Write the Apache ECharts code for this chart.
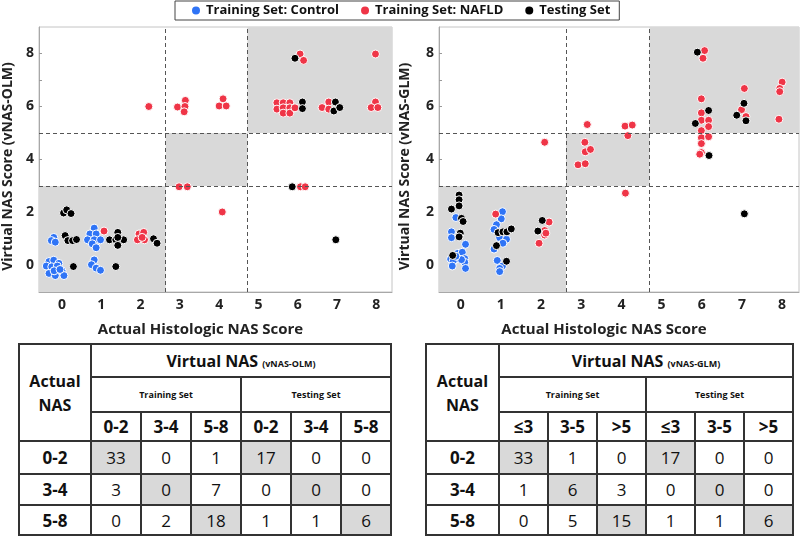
<!DOCTYPE html>
<html><head><meta charset="utf-8">
<script src="https://cdn.jsdelivr.net/npm/echarts@6/dist/echarts.min.js"></script>
<style>
html,body{margin:0;padding:0;background:#fff;}
#chart{position:absolute;left:0;top:0;width:800px;height:342px;}
table.nas{position:absolute;border-collapse:collapse;table-layout:fixed;font-family:"Open Sans",sans-serif;color:#111;}
table.nas td{border:2px solid #333;text-align:center;vertical-align:middle;padding:0;overflow:hidden;white-space:nowrap;}
td.big{font-size:17px;font-weight:bold;}
td.title{font-size:16px;font-weight:bold;}
td.hdr{font-size:16px;font-weight:bold;line-height:24px;}
td.sub{font-size:9px;font-weight:bold;}
td.val{font-size:17px;font-weight:normal;}
td.shade{background:#d9d9d9;}
span.small{font-size:9px;font-weight:bold;}
</style>
</head><body>
<div id="chart"></div>
<div id="tables"></div>
<script>
// ---------- data ----------
const seriesNames = ['Training Set: Control', 'Training Set: NAFLD', 'Testing Set'];
const xTickValues = [0,1,2,3,4,5,6,7,8];
const yLabelValues = [0,2,4,6,8];
const yTickValues = [0,1,2,3,4,5,6,7,8];
const yRange = [-1, 9];
const olmXRange = [-0.585, 8.4];
const glmXRange = [-0.54, 8.42];
const olmCutX = [2.64, 4.72];
const glmCutX = [2.62, 4.70];
const cutY = [3, 5];

// vNAS-OLM panel points [actual (jittered), virtual]
const olmControl = [
  [-0.21,1.06],[-0.27,0.94],[-0.17,0.88],
  [-0.33,0.15],[-0.21,0.2],[-0.08,0.08],[-0.4,-0.02],[-0.26,-0.05],[-0.12,-0.02],
  [0.0,-0.2],[-0.33,-0.3],[-0.17,-0.38],[0.05,-0.38],[-0.2,-0.2],[-0.05,-0.15],
  [0.82,1.41],[0.71,1.19],[0.87,1.19],[0.65,0.97],[0.82,0.97],[0.98,0.97],[0.77,0.82],[0.87,0.67],
  [0.82,0.21],[0.75,0.03],[0.87,-0.1],[0.98,-0.18]
];
const olmNafld = [
  [1.07,1.3],
  [1.96,1.19],[2.08,1.25],[1.92,0.97],[2.1,0.97],[2.04,1.06],
  [2.21,6.0],
  [2.94,5.98],[3.14,6.23],[3.13,6.0],[3.11,5.8],[2.98,2.97],[3.19,2.97],
  [4.0,6.02],[4.1,6.29],[4.18,6.02],[4.08,2.02],
  [6.06,7.98],[6.15,7.74],[5.47,6.14],[5.47,5.9],[5.63,6.14],[5.63,5.95],[5.63,5.75],
  [5.8,6.14],[5.8,5.95],[5.8,5.75],[5.93,5.95],[6.07,2.97],[6.19,2.97],
  [6.62,5.96],[6.79,6.17],[6.79,5.9],
  [7.98,7.98],[7.98,6.17],[7.87,5.96],[8.04,5.96]
];
const olmTesting = [
  [0.04,1.98],[0.12,2.1],[0.23,1.96],[0.08,1.13],[0.15,0.94],[0.27,0.94],[0.37,0.98],[0.29,-0.04],
  [1.21,0.97],[1.42,1.25],[1.37,0.97],[1.57,0.97],[1.42,0.76],[1.42,1.06],[1.37,-0.04],
  [2.33,1.01],[2.42,0.84],
  [5.93,7.82],[6.12,6.17],[6.12,5.92],
  [6.96,6.17],[6.92,5.83],[7.07,5.96],
  [5.86,2.97],[6.97,0.97]
];

// vNAS-GLM panel points
const glmControl = [
  [-0.12,1.81],[-0.23,1.27],[-0.23,1.05],[0.12,0.8],[-0.07,0.46],[0.04,0.5],[0.1,0.26],[-0.07,0.26],
  [-0.25,0.24],[-0.19,0.15],[0.1,0.12],[0.12,-0.11],[-0.21,-0.02],[0.02,0.22],[-0.12,0.35],
  [1.04,2.03],[1.01,1.76],[0.89,1.54],[0.83,1.36],[0.97,1.05],[1.14,0.99],[1.05,0.84],[0.83,0.62],
  [0.91,0.19],[1.04,-0.02],[0.97,-0.11],[0.97,-0.23]
];
const glmNafld = [
  [0.87,1.94],
  [2.2,1.64],[2.09,1.32],[2.09,1.15],[1.95,0.84],[2.12,1.22],
  [2.09,4.65],
  [2.92,3.8],[3.1,3.84],[3.1,4.29],[3.23,4.38],[3.09,4.65],[3.15,5.32],
  [4.09,5.26],[4.27,5.3],[4.16,4.9],[4.1,2.73],
  [6.07,8.11],[6.03,7.82],[5.99,6.29],[5.99,5.76],[5.99,5.48],[6.17,5.48],[6.17,5.24],[5.99,5.09],
  [5.99,4.82],[6.17,4.86],[5.99,4.6],[5.99,4.26],[5.95,4.2],
  [7.06,6.68],[6.99,5.88],[7.1,5.62],
  [8.0,6.92],[7.94,6.68],[7.94,6.56],[7.92,5.52]
];
const glmTesting = [
  [-0.04,2.66],[-0.04,2.48],[-0.04,2.25],[-0.23,2.13],[0.02,1.78],[0.06,1.66],[-0.01,1.22],[-0.04,1.08],[-0.2,0.38],
  [0.93,1.24],[1.05,1.27],[1.15,1.27],[1.26,1.38],[0.89,0.75],[1.14,0.16],
  [2.03,1.7],[1.92,1.3],
  [5.89,8.05],[6.17,5.85],[5.84,5.36],[6.18,4.15],
  [7.05,6.12],[6.87,5.67],[7.1,5.46],[7.06,1.95]
];

// tables
const rowLabels = ['0-2','3-4','5-8'];
const olmColLabels = ['0-2','3-4','5-8'];
const glmColLabels = ['\u22643','3-5','>5'];
const olmTrain = [[33,0,1],[3,0,7],[0,2,18]];
const olmTest  = [[17,0,0],[0,0,0],[1,1,6]];
const glmTrain = [[33,1,0],[1,6,3],[0,5,15]];
const glmTest  = [[17,0,0],[0,0,0],[1,1,6]];

// ---------- chart ----------
const FONT = '"Open Sans", sans-serif';
const colors = ['#2f74f6', '#ef3547', '#000000'];

function xAxisFor(gi, range) {
  return {
    type:'value', gridIndex:gi, min:range[0], max:range[1],
    axisLine:{show:true, onZero:false, lineStyle:{color:'#a8a8a8'}},
    axisTick:{show:false}, splitLine:{show:false},
    axisLabel:{customValues:xTickValues, fontSize:14, fontWeight:'bold', color:'#222', margin:6, fontFamily:FONT},
    name:'Actual Histologic NAS Score', nameLocation:'middle', nameGap:30,
    nameTextStyle:{fontSize:15, fontWeight:'bold', color:'#222', fontFamily:FONT, padding:[0,30,0,0]}
  };
}
function yAxisFor(gi, title, gap) {
  return {
    type:'value', gridIndex:gi, min:yRange[0], max:yRange[1],
    axisLine:{show:true, onZero:false, lineStyle:{color:'#a8a8a8'}},
    axisTick:{show:true, inside:true, length:3, customValues:yTickValues, lineStyle:{color:'#999'}},
    splitLine:{show:false},
    axisLabel:{customValues:yLabelValues, fontSize:14, fontWeight:'bold', color:'#222', margin:5, fontFamily:FONT},
    name:title, nameLocation:'middle', nameGap:gap, nameRotate:90,
    nameTextStyle:{fontSize:14, fontWeight:'bold', color:'#222', fontFamily:FONT, padding:[0,14,0,0]}
  };
}
function regionSeries(gi, xr, cx) {
  return {
    type:'scatter', name:'regions', xAxisIndex:gi, yAxisIndex:gi, data:[], silent:true, z:1,
    markArea:{silent:true, itemStyle:{color:'#d9d9d9'}, data:[
      [{coord:[xr[0], yRange[0]]}, {coord:[cx[0], cutY[0]]}],
      [{coord:[cx[0], cutY[0]]}, {coord:[cx[1], cutY[1]]}],
      [{coord:[cx[1], cutY[1]]}, {coord:[xr[1], yRange[1]]}]
    ]},
    markLine:{silent:true, symbol:['none','none'], label:{show:false},
      lineStyle:{type:[4,3], color:'#555', width:1},
      data:[{xAxis:cx[0]},{xAxis:cx[1]},{yAxis:cutY[0]},{yAxis:cutY[1]}]}
  };
}
function pts(gi, idx, data) {
  return {
    type:'scatter', name:seriesNames[idx], xAxisIndex:gi, yAxisIndex:gi, data:data,
    symbol:'circle', symbolSize:8, z:3+idx,
    itemStyle:{color:colors[idx], borderColor:'#ffffff', borderWidth:1, opacity:1}
  };
}

const chart = echarts.init(document.getElementById('chart'), null, {renderer:'canvas'});
chart.setOption({
  animation:false,
  textStyle:{fontFamily:FONT},
  legend:{
    data:seriesNames, left:175, top:1, icon:'circle', itemWidth:10, itemHeight:10, itemGap:20,
    borderColor:'#444', borderWidth:1, padding:[3,9,3,15], borderRadius:0,
    textStyle:{fontSize:13, fontWeight:'bold', color:'#111', fontFamily:FONT}
  },
  grid:[
    {left:33, top:27, width:359, height:272, show:true, borderColor:'#c4c4c4', borderWidth:1},
    {left:439, top:27, width:360, height:272, show:true, borderColor:'#c4c4c4', borderWidth:1}
  ],
  xAxis:[xAxisFor(0, olmXRange), xAxisFor(1, glmXRange)],
  yAxis:[yAxisFor(0,'Virtual NAS Score (vNAS-OLM)',24), yAxisFor(1,'Virtual NAS Score (vNAS-GLM)',27)],
  series:[
    regionSeries(0, olmXRange, olmCutX),
    regionSeries(1, glmXRange, glmCutX),
    pts(0,0,olmControl), pts(0,1,olmNafld), pts(0,2,olmTesting),
    pts(1,0,glmControl), pts(1,1,glmNafld), pts(1,2,glmTesting)
  ]
});

// ---------- tables ----------
function buildTable(left, firstW, colW, model, colLabels, train, test) {
  const rowH = [33,35,29,33,31,30];
  let h = '<table class="nas" style="left:'+left+'px;top:343px;">';
  h += '<colgroup><col style="width:'+firstW+'px">';
  for (let i=0;i<6;i++) h += '<col style="width:'+colW+'px">';
  h += '</colgroup>';
  h += '<tr style="height:'+rowH[0]+'px"><td class="hdr" rowspan="3">Actual<br>NAS</td>'+
       '<td class="title" colspan="6">Virtual NAS <span class="small">('+model+')</span></td></tr>';
  h += '<tr style="height:'+rowH[1]+'px"><td class="sub" colspan="3">Training Set</td><td class="sub" colspan="3">Testing Set</td></tr>';
  h += '<tr style="height:'+rowH[2]+'px">';
  for (let k=0;k<2;k++) colLabels.forEach(c => { h += '<td class="big">'+c+'</td>'; });
  h += '</tr>';
  rowLabels.forEach((r,i) => {
    h += '<tr style="height:'+rowH[3+i]+'px"><td class="big">'+r+'</td>';
    [train,test].forEach(m => m[i].forEach((v,j) => {
      h += '<td class="val'+(i===j?' shade':'')+'">'+v+'</td>';
    }));
    h += '</tr>';
  });
  h += '</table>';
  return h;
}
document.getElementById('tables').innerHTML =
  buildTable(18, 72, 50, 'vNAS-OLM', olmColLabels, olmTrain, olmTest) +
  buildTable(425, 73, 49, 'vNAS-GLM', glmColLabels, glmTrain, glmTest);
</script>
</body></html>
